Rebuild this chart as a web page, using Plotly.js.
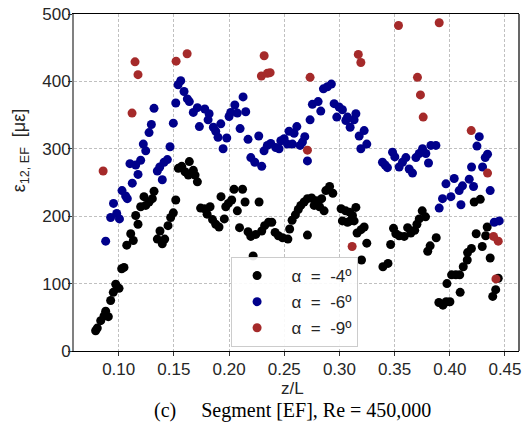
<!DOCTYPE html>
<html><head><meta charset="utf-8">
<script src="https://cdn.plot.ly/plotly-3.0.1.min.js"></script>
<style>html,body{margin:0;padding:0;background:#fff}</style>
</head><body><div id="chart" style="width:528px;height:422px"></div>
<script>
// alpha = -4 deg
const x4 = [0.0791,0.0806,0.0837,0.0867,0.0882,0.0906,0.0927,0.0951,0.0973,0.1003,0.1027,0.1048,0.1073,0.1109,0.1132,0.1154,0.1175,0.1199,0.1229,0.1245,0.1275,0.1305,0.1320,0.1350,0.1374,0.1395,0.1417,0.1447,0.1471,0.1495,0.1517,0.1540,0.1571,0.1601,0.1640,0.1631,0.1676,0.1692,0.1713,0.1742,0.1778,0.1828,0.1801,0.1850,0.1879,0.1909,0.1927,0.1957,0.1970,0.1994,0.2024,0.2045,0.2075,0.2095,0.2122,0.2145,0.2172,0.2197,0.2218,0.2242,0.2272,0.2296,0.2322,0.2358,0.2387,0.2417,0.2447,0.2485,0.2533,0.2549,0.2571,0.2601,0.2627,0.2650,0.2680,0.2710,0.2710,0.2748,0.2771,0.2795,0.2820,0.2839,0.2861,0.2877,0.2911,0.2940,0.3015,0.3056,0.3092,0.3118,0.3149,0.3027,0.3073,0.3097,0.3133,0.3160,0.3196,0.3224,0.3248,0.3200,0.3394,0.3440,0.3464,0.3490,0.3511,0.3541,0.3587,0.3618,0.3647,0.3682,0.3702,0.3723,0.3750,0.3780,0.3800,0.3822,0.3877,0.3901,0.3938,0.3967,0.4001,0.3974,0.4016,0.4055,0.4090,0.4094,0.4122,0.4158,0.4161,0.4196,0.4221,0.4276,0.4239,0.4294,0.4325,0.4339,0.4366,0.4389,0.4416,0.4439];
const y4 = [30,34,45,52,59,51,75,87,99,93,122,124,157,174,164,201,188,214,229,216,221,226,237,166,178,159,166,186,198,205,224,271,274,266,281,261,268,261,251,212,211,214,203,195,188,184,229,196,214,219,224,240,208,183,240,221,177,170,141,173,221,178,186,191,191,176,171,168,166,181,194,202,210,216,221,226,172,227,216,223,214,226,208,238,244,234,211,208,206,201,213,193,191,193,193,175,180,184,160,135,125,130,158,182,174,171,170,183,175,179,188,196,208,199,148,156,168,72,68,73,73,100,113,113,113,87,125,135,146,152,221,225,174,155,171,184,138,81,91,108];
// alpha = -6 deg
const x6 = [0.0882,0.0927,0.0953,0.0982,0.1007,0.1030,0.1063,0.1078,0.1102,0.1123,0.1154,0.1175,0.1199,0.1223,0.1245,0.1275,0.1296,0.1320,0.1350,0.1372,0.1395,0.1411,0.1441,0.1465,0.1495,0.1517,0.1538,0.1562,0.1592,0.1622,0.1640,0.1676,0.1713,0.1731,0.1780,0.1819,0.1810,0.1858,0.1879,0.1900,0.1925,0.1946,0.1979,0.2000,0.2015,0.2052,0.2075,0.2127,0.2151,0.2100,0.2172,0.2197,0.2233,0.2269,0.2296,0.2317,0.2347,0.2378,0.2423,0.2453,0.2469,0.2499,0.2544,0.2529,0.2574,0.2589,0.2614,0.2644,0.2665,0.2686,0.2710,0.2734,0.2755,0.2807,0.2831,0.2855,0.2891,0.2927,0.2952,0.2997,0.3027,0.2976,0.3058,0.3073,0.3097,0.3133,0.3149,0.3224,0.3179,0.3248,0.3194,0.3390,0.3435,0.3414,0.3481,0.3502,0.3541,0.3571,0.3602,0.3632,0.3662,0.3693,0.3723,0.3753,0.3783,0.3807,0.3829,0.3874,0.3904,0.3934,0.3965,0.4010,0.4040,0.4085,0.4101,0.4115,0.4176,0.4197,0.4215,0.4246,0.4267,0.4297,0.4321,0.4342,0.4366,0.4403,0.4448];
const y6 = [163,198,219,204,196,238,230,226,278,249,276,262,283,307,297,324,336,360,267,273,254,280,284,303,338,368,395,401,385,374,370,354,361,333,359,352,343,332,326,317,337,300,316,348,354,365,353,377,355,330,314,287,280,319,274,297,305,308,302,300,312,315,326,307,307,323,333,305,310,318,282,343,366,370,356,389,392,396,367,362,358,347,342,347,332,343,352,327,319,307,300,280,272,276,295,288,273,280,287,270,264,287,293,300,293,279,305,305,212,226,248,229,256,238,217,245,255,273,244,304,318,273,287,292,238,191,193];
// alpha = -9 deg
const x9 = [0.0859,0.1121,0.1148,0.1175,0.1520,0.1620,0.2318,0.2293,0.2347,0.2372,0.2734,0.2710,0.3171,0.3194,0.3115,0.3535,0.3707,0.3734,0.3759,0.3904,0.4194,0.4342,0.4396,0.4439,0.4418];
const y9 = [267,353,429,410,430,441,438,408,412,413,406,298,440,428,155,483,406,380,347,487,327,264,170,163,107];

const seriesNames = ['\u00a0\u00a0\u03b1\u00a0\u00a0=\u00a0\u00a0-4\u00ba','\u00a0\u00a0\u03b1\u00a0\u00a0=\u00a0\u00a0-6\u00ba','\u00a0\u00a0\u03b1\u00a0\u00a0=\u00a0\u00a0-9\u00ba'];
const xTickVals = [0.10,0.15,0.20,0.25,0.30,0.35,0.40,0.45];
const yTickVals = [0,100,200,300,400,500];

const mk = (c)=>({color:c,size:9,line:{width:0}});
const traces = [
  {x:x4,y:y4,mode:'markers',type:'scatter',name:seriesNames[0],marker:mk('#000000'),legendgroup:'a'},
  {x:x6,y:y6,mode:'markers',type:'scatter',name:seriesNames[1],marker:mk('#00008b'),legendgroup:'b'},
  {x:x9,y:y9,mode:'markers',type:'scatter',name:seriesNames[2],marker:mk('#a52a2a'),legendgroup:'c'}
];
const sans = 'Liberation Sans, Arial, sans-serif';
const tickFont = {family:sans,size:17,color:'#262626'};
const layout = {
  width:528,height:422,
  margin:{l:74,r:9,t:14,b:71},
  paper_bgcolor:'#ffffff',plot_bgcolor:'#ffffff',
  showlegend:true,
  legend:{x:0.353,y:0.279,xanchor:'left',yanchor:'top',bgcolor:'rgba(255,255,255,0.9)',
    bordercolor:'#cccccc',borderwidth:1,font:{family:sans,size:17,color:'#262626'},
    traceorder:'grouped',tracegroupgap:1,itemwidth:40},
  xaxis:{range:[0.0595,0.4627],tickvals:xTickVals,tickformat:'.2f',tickfont:tickFont,
    showgrid:true,gridcolor:'#c0c0c0',griddash:'3px,2px',gridwidth:1,
    showline:true,linecolor:'#000000',linewidth:1.2,mirror:true,
    ticks:'outside',ticklen:4,tickcolor:'#333333',zeroline:false,ticklabelstandoff:-2},
  yaxis:{range:[0,500],tickvals:yTickVals,tickfont:tickFont,
    showgrid:true,gridcolor:'#c0c0c0',griddash:'3px,2px',gridwidth:1,
    showline:true,linecolor:'#808080',linewidth:2,
    ticks:'outside',ticklen:4,tickcolor:'#333333',zeroline:false,ticklabelstandoff:-6},
  shapes:[{type:'line',xref:'paper',yref:'paper',x0:1,x1:1,y0:0,y1:1,line:{color:'#000000',width:1.2}}],
  annotations:[
    {text:'\u03b5<sub>12, EF</sub>\u00a0\u00a0[\u03bc\u03b5]',xref:'paper',yref:'paper',x:-0.121,y:0.596,xanchor:'center',yanchor:'middle',textangle:-90,showarrow:false,
      font:{family:sans,size:18,color:'#262626'}},
    {text:'z/L',xref:'paper',yref:'paper',x:0.49,y:-0.112,xanchor:'center',yanchor:'middle',showarrow:false,
      font:{family:sans,size:17,color:'#262626'}},
    {text:'(c)\u00a0\u00a0\u00a0\u00a0\u00a0Segment [EF], Re = 450,000',xref:'paper',yref:'paper',x:0.492,y:-0.178,xanchor:'center',yanchor:'middle',showarrow:false,
      font:{family:'Liberation Serif, Times New Roman, serif',size:20,color:'#000000'}}
  ]
};
Plotly.newPlot('chart',traces,layout,{displayModeBar:false,staticPlot:true});
</script></body></html>
